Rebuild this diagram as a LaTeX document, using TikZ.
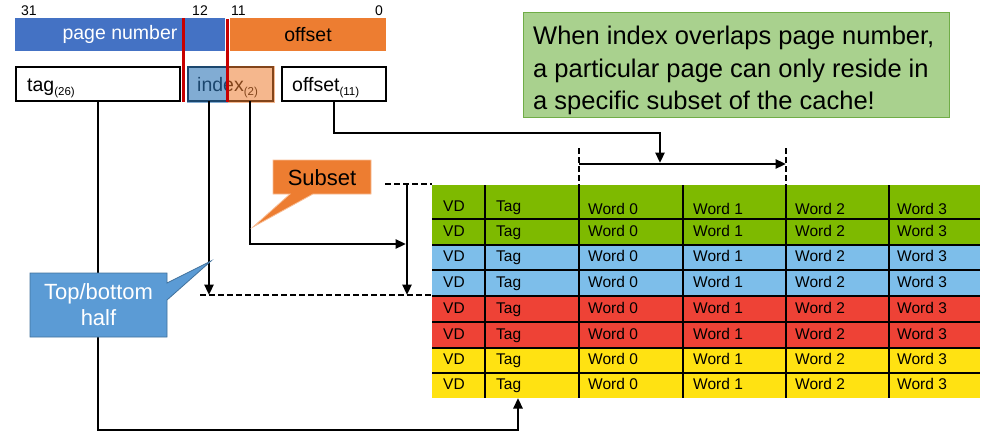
\documentclass[tikz,border=0pt]{standalone}
\usepackage{fontspec}
\setmainfont{Liberation Sans}
\usetikzlibrary{arrows.meta}

\definecolor{pnblue}{RGB}{68,114,196}
\definecolor{offorange}{RGB}{237,125,49}
\definecolor{ovblue}{RGB}{46,117,182}
\definecolor{splitred}{RGB}{200,0,0}
\definecolor{notefill}{RGB}{169,209,142}
\definecolor{noteline}{RGB}{112,173,71}
\definecolor{callblue}{RGB}{91,155,213}
\definecolor{callblueline}{RGB}{65,113,156}
\definecolor{callorange}{RGB}{237,125,49}
\definecolor{callorangeline}{RGB}{248,190,150}
\definecolor{rgreen}{RGB}{126,186,0}
\definecolor{rblue}{RGB}{125,190,234}
\definecolor{rred}{RGB}{238,66,54}
\definecolor{ryellow}{RGB}{255,226,18}

\newcommand{\sz}[2]{\fontsize{#1}{#2}\selectfont}
\newcommand{\lowsub}[1]{\raisebox{-4pt}{\sz{11.5}{13}#1}}

\begin{document}
\begin{tikzpicture}[x=1pt,y=-1pt,
  bar/.style={inner sep=0pt,outer sep=0pt,anchor=north west},
  field/.style={draw=black,line width=2.6pt,fill=white,inner sep=0pt,outer sep=0pt,anchor=north west,minimum height=34pt},
  wire/.style={line width=2.8pt,black},
  conn/.style={wire,-{Triangle[length=10.5pt,width=9pt]}},
  guide/.style={line width=1.8pt,black,dash pattern=on 6pt off 3pt},
  grid/.style={line width=2pt,black},
  cell/.style={anchor=base west,inner sep=0pt,font=\sz{15.5}{18}},
  bitno/.style={font=\sz{14}{16},inner sep=0pt}
]
\useasboundingbox (0,0) rectangle (990,432);

% ---- address layout: bit numbers and fields ----
\node[bitno] (b31) at (29,11) {31};
\node[bitno] (b12) at (200,11) {12};
\node[bitno] (b11) at (238.5,11) {11};
\node[bitno] (b0)  at (379,11) {0};

\node[bar,fill=pnblue,minimum width=210pt,minimum height=33pt,text=white,font=\sz{19.5}{22}] (pn) at (15,18) {page number};
\node[bar,fill=offorange,minimum width=156pt,minimum height=33pt,font=\sz{19.5}{22}] (poff) at (230,18) {offset};

% ---- tag / index / offset boxes ----
\node[field,minimum width=164pt] (tagf) at (16,67) {};
\node[anchor=base west,inner sep=0pt,font=\sz{19.5}{22}] (tagt) at (27,91) {tag\lowsub{(26)}};

\node[field,minimum width=85pt] (idx) at (188,67) {};
\node[anchor=base west,inner sep=0pt,font=\sz{19.5}{22}] (idxt) at (197,91) {index\lowsub{(2)}};
% translucent halves over the index field
\fill[ovblue,fill opacity=0.6] (186.5,65.5) rectangle (228,102.5);
\fill[offorange,fill opacity=0.55] (228,65.5) rectangle (274.5,102.5);
\coordinate (idxA) at (209,101);
\coordinate (idxB) at (250,101);

\node[field,minimum width=104pt] (offf) at (282,67) {};
\node[anchor=base west,inner sep=0pt,font=\sz{19.5}{22}] (offt) at (292,91) {offset\lowsub{(11)}};

% red split lines
\draw[splitred,line width=3.4pt] (183.5,18) -- (183.5,102);
\draw[splitred,line width=3.4pt] (227.5,19) -- (227.5,102);

% ---- note ----
\node[bar,fill=notefill,draw=noteline,line width=1pt,minimum width=426pt,minimum height=105pt] (note) at (523,12) {};
\node[anchor=north west,inner sep=0pt,align=left,font=\sz{25.5}{32.5}] (notet) at (533,26)
  {When index overlaps page number,\\a particular page can only reside in\\a specific subset of the cache!};

% ---- cache table ----
\foreach \top/\bot/\col [count=\r] in {185/219/rgreen,219/245/rgreen,245/270/rblue,270/296/rblue,296/322/rred,322/348/rred,348/373/ryellow,373/398/ryellow}{
  \node[bar,fill=\col,minimum width=548pt,minimum height={(\bot-\top)*1pt}] (row\r) at (432,\top) {};
}
\foreach \b/\wb [count=\r] in {211/214,236/236,261/261,287/287,313/313,339/339,364/364,389/389}{
  \node[cell] (vd\r)  at (443,\b) {VD};
  \node[cell] (tg\r)  at (496,\b) {Tag};
  \node[cell] (wa\r)  at (588,\wb) {Word 0};
  \node[cell] (wb\r)  at (693,\wb) {Word 1};
  \node[cell] (wc\r)  at (795,\wb) {Word 2};
  \node[cell] (wd\r)  at (897,\wb) {Word 3};
}
\foreach \r in {1,...,7}{
  \draw[grid] (row\r.south west) -- (row\r.south east);
}
\foreach \x in {485,579,683,786,889}{
  \draw[grid] (\x,185) -- (\x,398);
}

% ---- guides ----
\coordinate (dtL) at (385,184);
\coordinate (dtR) at (432,184);
\coordinate (dbL) at (200,295);
\coordinate (dbR) at (432,295);
\draw[guide] (dtL) -- (dtR);
\draw[guide] (dbL) -- (dbR);
\coordinate (sTop) at (407,184);
\coordinate (sBot) at (407,295);

\coordinate (wL) at (579,164);
\coordinate (wR) at (786,164);
\draw[guide] (579,148) -- (579,185);
\draw[guide] (786,148) -- (786,185);

% ---- connectors ----
\coordinate (tagin) at (518,398);
\draw[conn] (tagf.south) -- ++(0,329) -| (tagin);
\draw[conn] (idxA) -- (idxA |- dbL);
\coordinate (subin) at (406,244);
\draw[conn] (idxB) |- (subin);
\draw[conn] (sTop) -- (sBot);
\coordinate (wsel) at (660,163);
\draw[conn] (offf.south) -- ++(0,32) -| (wsel);
\draw[conn] (wL) -- (wR);

% ---- callouts (on top of the wires) ----
\draw[fill=callorange,draw=callorangeline,line width=0.8pt]
  (273,160) -- (371,160) -- (371,194) -- (313,194) -- (253,227) -- (290,194) -- (273,194) -- cycle;
\node[font=\sz{22}{26},inner sep=0pt] (subset) at (322,178) {Subset};

\draw[fill=callblue,draw=callblueline,line width=0.8pt]
  (30,273) -- (167,273) -- (167,283) -- (211,261) -- (167,300) -- (167,337) -- (30,337) -- cycle;
\node[font=\sz{22}{26},text=white,align=center,inner sep=0pt] (half) at (98.5,305) {Top/bottom\\half};
\end{tikzpicture}
\end{document}
